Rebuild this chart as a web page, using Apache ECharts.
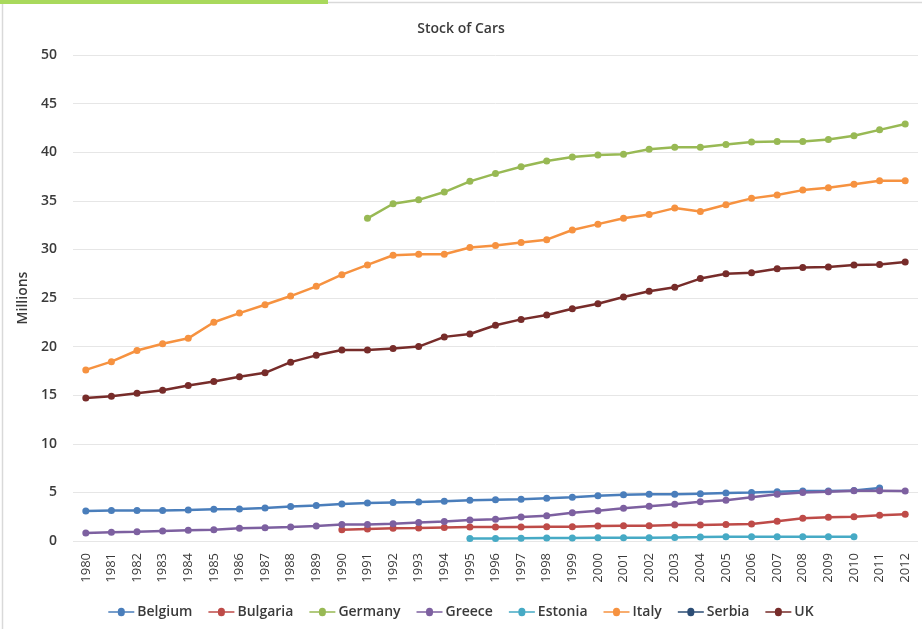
<!DOCTYPE html>
<html>
<head>
<meta charset="utf-8">
<script src="https://cdn.jsdelivr.net/npm/echarts@6/dist/echarts.min.js"></script>
<style>
  html, body { margin: 0; padding: 0; background: #ffffff; }
  #chart { width: 922px; height: 629px; }
</style>
</head>
<body>
<div id="chart"></div>
<script>
// Passenger car stock per country, millions
const years = [];
for (let y = 1980; y <= 2012; y++) years.push(String(y));

const belgium = [3.09, 3.15, 3.15, 3.15, 3.2, 3.26, 3.3, 3.4, 3.55, 3.65, 3.8, 3.9, 3.95, 4.0, 4.1, 4.2,
  4.25, 4.3, 4.4, 4.5, 4.66, 4.76, 4.8, 4.8, 4.87, 4.94, 5.0, 5.07, 5.14, 5.14, 5.2, 5.45, null];
const bulgaria = [null, null, null, null, null, null, null, null, null, null, 1.16, 1.23, 1.3, 1.34, 1.4, 1.44,
  1.44, 1.44, 1.47, 1.47, 1.54, 1.57, 1.57, 1.65, 1.65, 1.71, 1.75, 2.03, 2.33, 2.44, 2.5, 2.64, 2.74];
const germany = [null, null, null, null, null, null, null, null, null, null, null, 33.2, 34.7, 35.1, 35.9, 37.0,
  37.8, 38.5, 39.1, 39.5, 39.7, 39.8, 40.3, 40.5, 40.5, 40.8, 41.05, 41.1, 41.1, 41.3, 41.7, 42.3, 42.9];
const greece = [0.82, 0.9, 0.96, 1.03, 1.1, 1.16, 1.3, 1.37, 1.44, 1.54, 1.7, 1.7, 1.78, 1.9, 2.0, 2.15,
  2.23, 2.47, 2.6, 2.9, 3.1, 3.36, 3.57, 3.77, 4.04, 4.2, 4.5, 4.8, 5.0, 5.07, 5.17, 5.17, 5.14];
const estonia = [null, null, null, null, null, null, null, null, null, null, null, null, null, null, null, 0.25,
  0.27, 0.28, 0.31, 0.32, 0.33, 0.33, 0.34, 0.37, 0.4, 0.44, 0.45, 0.45, 0.45, 0.44, 0.45, null, null];
const italy = [17.6, 18.45, 19.6, 20.3, 20.85, 22.5, 23.45, 24.3, 25.2, 26.2, 27.4, 28.4, 29.4, 29.5, 29.5, 30.2,
  30.4, 30.7, 31.0, 32.0, 32.6, 33.2, 33.6, 34.25, 33.9, 34.6, 35.25, 35.6, 36.1, 36.35, 36.7, 37.07, 37.07];
const serbia = years.map(() => null);
const uk = [14.7, 14.9, 15.2, 15.5, 16.0, 16.4, 16.9, 17.3, 18.4, 19.1, 19.65, 19.65, 19.8, 20.0, 21.0, 21.3,
  22.2, 22.8, 23.25, 23.9, 24.4, 25.1, 25.7, 26.1, 27.0, 27.5, 27.6, 28.0, 28.15, 28.2, 28.4, 28.45, 28.7];

const yTicks = [0, 5, 10, 15, 20, 25, 30, 35, 40, 45, 50];

const seriesDefs = [
  { name: 'Belgium', data: belgium, color: '#4a7ebb' },
  { name: 'Bulgaria', data: bulgaria, color: '#be4b48' },
  { name: 'Germany', data: germany, color: '#98b954' },
  { name: 'Greece', data: greece, color: '#7d60a0' },
  { name: 'Estonia', data: estonia, color: '#46aac5' },
  { name: 'Italy', data: italy, color: '#f69240' },
  { name: 'Serbia', data: serbia, color: '#2c4d75' },
  { name: 'UK', data: uk, color: '#772c2a' }
];

const font = '"Open Sans", Lato, sans-serif';
const textColor = '#3a3a3a';
const chart = echarts.init(document.getElementById('chart'), null, { renderer: 'canvas' });

// legend marker: short line with a dot in the middle
const lineDot = 'path://M0,4.3 L9.5,4.3 A3.5,3.5 0 1 1 16.5,4.3 L26,4.3 L26,5.7 L16.5,5.7 A3.5,3.5 0 1 1 9.5,5.7 L0,5.7 Z';

chart.setOption({
  backgroundColor: '#ffffff',
  animation: false,
  textStyle: { fontFamily: font },
  title: {
    text: 'Stock of Cars',
    left: 'center',
    top: 17,
    textStyle: { fontFamily: font, fontSize: 14, fontWeight: 600, color: textColor }
  },
  graphic: [
    { type: 'rect', left: 0, top: 0, shape: { width: 921, height: 628 },
      style: { fill: 'none', stroke: '#d9d9d9', lineWidth: 1.5 }, silent: true },
    { type: 'rect', left: 0, top: 0, shape: { width: 328, height: 4 },
      style: { fill: '#a9d95c' }, silent: true }
  ],
  legend: {
    top: 600,
    left: 'center',
    itemWidth: 26,
    itemHeight: 10,
    itemGap: 16,
    textStyle: { fontFamily: font, fontSize: 14, fontWeight: 600, color: textColor, padding: [0, 0, 0, -2] },
    data: seriesDefs.map(s => ({ name: s.name, icon: lineDot }))
  },
  grid: { left: 73, right: 4, top: 55, bottom: 88 },
  xAxis: {
    type: 'category',
    data: years,
    boundaryGap: true,
    axisLine: { show: false },
    axisTick: { show: false },
    axisLabel: { rotate: 90, fontFamily: font, fontSize: 13, color: textColor, margin: 12, interval: 0 }
  },
  yAxis: {
    type: 'value',
    min: yTicks[0],
    max: yTicks[yTicks.length - 1],
    interval: 5,
    name: 'Millions',
    nameLocation: 'middle',
    nameGap: 33,
    nameRotate: 90,
    nameTextStyle: { fontFamily: font, fontSize: 14, fontWeight: 600, color: textColor },
    axisLine: { show: false },
    axisTick: { show: false },
    axisLabel: { fontFamily: font, fontSize: 14, fontWeight: 600, color: textColor, margin: 16 },
    splitLine: { lineStyle: { color: '#e6e6e6', width: 1 } }
  },
  series: seriesDefs.map(s => ({
    name: s.name,
    type: 'line',
    data: s.data,
    color: s.color,
    symbol: 'circle',
    symbolSize: 7,
    showAllSymbol: true,
    connectNulls: false,
    lineStyle: { width: 2.5, color: s.color },
    itemStyle: { color: s.color }
  }))
});
</script>
</body>
</html>
